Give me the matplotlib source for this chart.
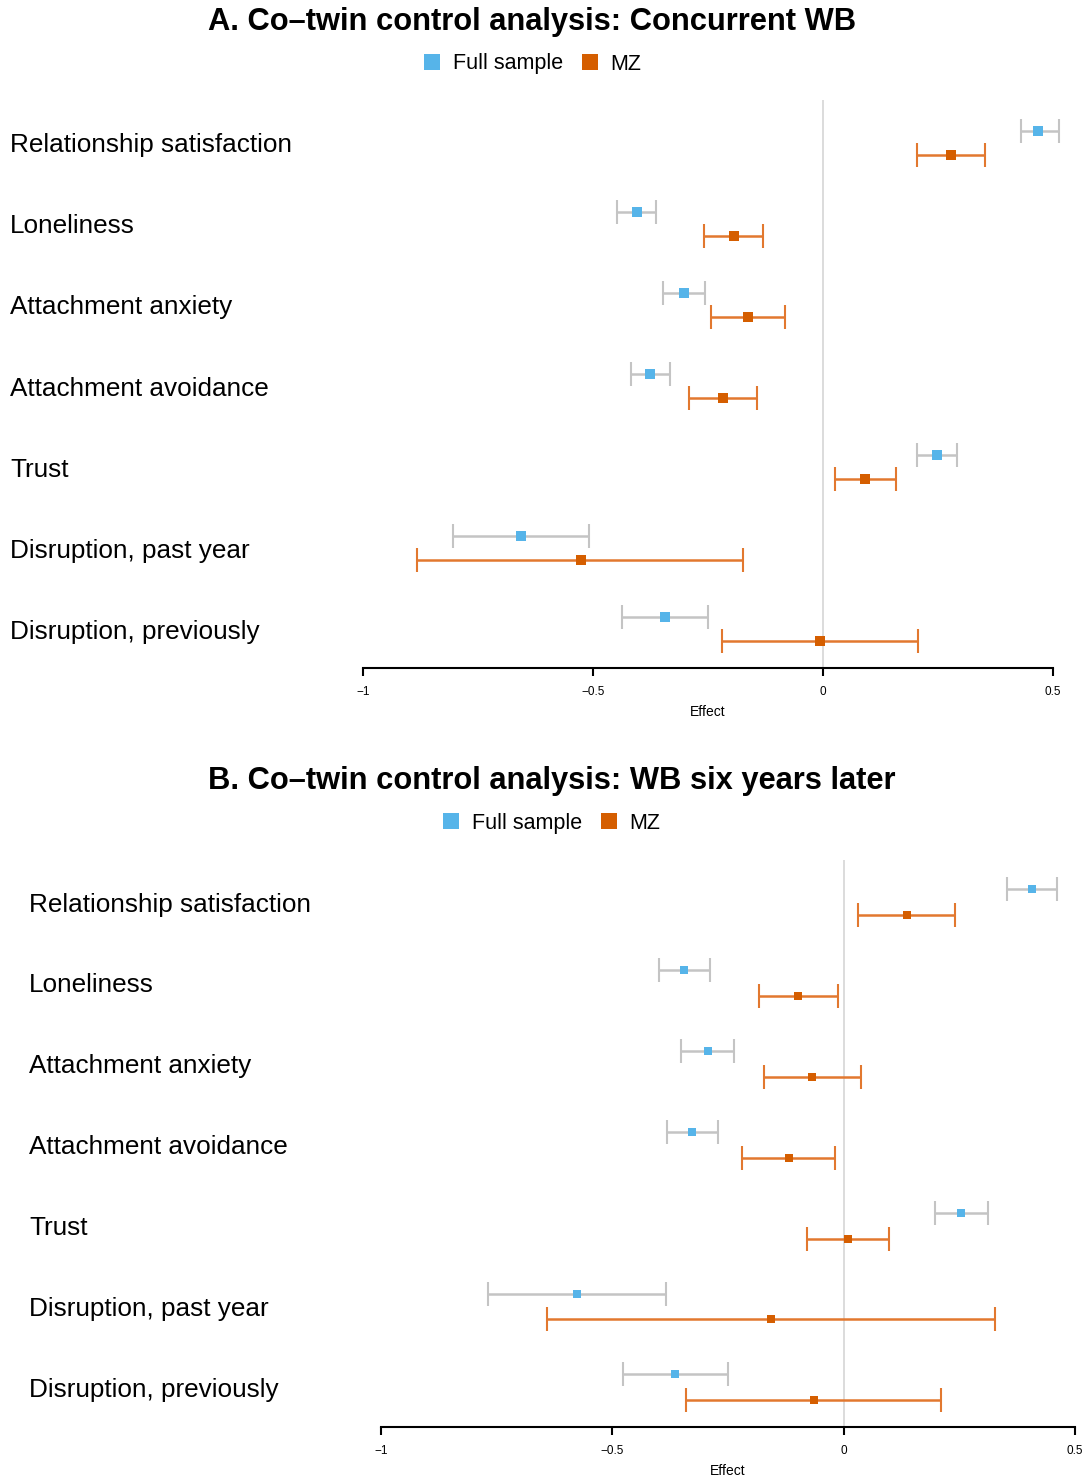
import matplotlib
matplotlib.use("Agg")
import matplotlib.pyplot as plt
import matplotlib.transforms as mtransforms
from matplotlib.lines import Line2D
import numpy as np

plt.rcParams['font.family'] = ['Liberation Sans', 'DejaVu Sans']

categories = ["Relationship satisfaction", "Loneliness", "Attachment anxiety",
              "Attachment avoidance", "Trust", "Disruption, past year",
              "Disruption, previously"]

# Panel A: concurrent WB
A_full_est = [0.467, -0.405, -0.302, -0.376, 0.248, -0.657, -0.343]
A_full_lo = [0.431, -0.447, -0.348, -0.418, 0.204, -0.804, -0.436]
A_full_hi = [0.513, -0.362, -0.257, -0.333, 0.292, -0.508, -0.251]
A_mz_est = [0.278, -0.194, -0.164, -0.218, 0.091, -0.527, -0.007]
A_mz_lo = [0.204, -0.258, -0.243, -0.292, 0.025, -0.882, -0.220]
A_mz_hi = [0.352, -0.130, -0.083, -0.144, 0.158, -0.173, 0.206]

# Panel B: WB six years later
B_full_est = [0.407, -0.345, -0.293, -0.327, 0.253, -0.576, -0.364]
B_full_lo = [0.353, -0.400, -0.351, -0.381, 0.197, -0.769, -0.478]
B_full_hi = [0.461, -0.288, -0.236, -0.271, 0.311, -0.383, -0.249]
B_mz_est = [0.136, -0.098, -0.068, -0.119, 0.009, -0.157, -0.064]
B_mz_lo = [0.032, -0.184, -0.173, -0.219, -0.079, -0.641, -0.340]
B_mz_hi = [0.241, -0.012, 0.037, -0.019, 0.097, 0.327, 0.211]

xticks = [-1, -0.5, 0, 0.5]
xticklabels = ["\u22121", "\u22120.5", "0", "0.5"]

series_names = ["Full sample", "MZ"]
BLUE = "#56B4E9"
ORANGE = "#D55E00"
GREY_ERR = "#C4C4C4"
ORANGE_ERR = "#E2782F"

W, H = 1087, 1477
fig = plt.figure(figsize=(W / 100, H / 100), dpi=100)


def px_axes(left, right, top, bottom):
    return fig.add_axes([left / W, 1 - bottom / H, (right - left) / W, (bottom - top) / H])


def panel(ax, full_est, full_lo, full_hi, mz_est, mz_lo, mz_hi, ylim, off,
          msize, label_x, title, title_xy, legend_xy):
    n = len(categories)
    rows = np.arange(n)
    ax.set_xlim(-1, 0.5)
    ax.set_ylim(*ylim)
    ax.axvline(0, color="#D9D9D9", lw=1.3, zorder=0)
    fe = np.array(full_est); fl = np.array(full_lo); fh = np.array(full_hi)
    me = np.array(mz_est); ml = np.array(mz_lo); mh = np.array(mz_hi)
    ax.errorbar(fe, rows - off, xerr=[fe - fl, fh - fe], fmt='none',
                ecolor=GREY_ERR, elinewidth=1.8, capsize=8.5, capthick=1.5,
                clip_on=False, zorder=2)
    ax.errorbar(me, rows + off, xerr=[me - ml, mh - me], fmt='none',
                ecolor=ORANGE_ERR, elinewidth=1.8, capsize=8.5, capthick=1.5,
                clip_on=False, zorder=2)
    ax.plot(fe, rows - off, 's', color=BLUE, ms=msize, mew=0, zorder=3, clip_on=False)
    ax.plot(me, rows + off, 's', color=ORANGE, ms=msize, mew=0, zorder=3, clip_on=False)

    for s in ["top", "right", "left"]:
        ax.spines[s].set_visible(False)
    ax.spines["bottom"].set_linewidth(1.5)
    ax.set_yticks([])
    ax.set_xticks(xticks)
    ax.set_xticklabels(xticklabels)
    ax.tick_params(axis='x', length=6, width=1.5, labelsize=8.5, pad=7)
    ax.set_xlabel("Effect", fontsize=10, labelpad=5)

    trans = mtransforms.blended_transform_factory(fig.transFigure, ax.transData)
    for i, c in enumerate(categories):
        ax.text(label_x / W, i, c, transform=trans, ha='left', va='center_baseline',
                fontsize=18.8, color='black')

    fig.text(title_xy[0] / W, 1 - title_xy[1] / H, title, ha='center', va='center',
             fontsize=22.2, fontweight='bold')
    handles = [Line2D([], [], marker='s', ls='none', color=BLUE, ms=12, mew=0),
               Line2D([], [], marker='s', ls='none', color=ORANGE, ms=12, mew=0)]
    fig.legend(handles, series_names, loc='center',
               bbox_to_anchor=(legend_xy[0] / W, 1 - legend_xy[1] / H),
               ncol=2, frameon=False, fontsize=15.5, handlelength=0.9,
               handletextpad=0.5, columnspacing=0.8, borderpad=0)


axA = px_axes(363, 1053, 100, 668)
panel(axA, A_full_est, A_full_lo, A_full_hi, A_mz_est, A_mz_lo, A_mz_hi,
      ylim=(6.48, -0.53), off=0.148, msize=7.2, label_x=10,
      title="A. Co\u2013twin control analysis: Concurrent WB",
      title_xy=(532.5, 22), legend_xy=(532, 64))

axB = px_axes(381, 1075, 860, 1427)
panel(axB, B_full_est, B_full_lo, B_full_hi, B_mz_est, B_mz_lo, B_mz_hi,
      ylim=(6.49, -0.52), off=0.16, msize=5.5, label_x=29,
      title="B. Co\u2013twin control analysis: WB six years later",
      title_xy=(551.5, 781), legend_xy=(551, 823))

fig.savefig("out.png", dpi=100)
